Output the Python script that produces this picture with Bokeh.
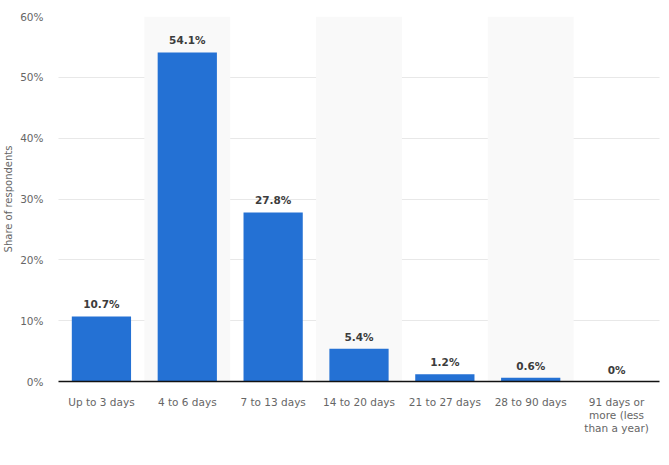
from bokeh.plotting import figure
from bokeh.models import FactorRange, Range1d, SingleIntervalTicker, ColumnDataSource
from bokeh.embed import file_html
from bokeh.resources import INLINE
from bokeh.core.properties import value

categories = ["Up to 3 days", "4 to 6 days", "7 to 13 days", "14 to 20 days",
              "21 to 27 days", "28 to 90 days", "91 days or\nmore (less\nthan a year)"]
shares = [10.7, 54.1, 27.8, 5.4, 1.2, 0.6, 0.0]
labels = ["10.7%", "54.1%", "27.8%", "5.4%", "1.2%", "0.6%", "0%"]
band_categories = [categories[1], categories[3], categories[5]]

p = figure(width=661, height=449, x_range=FactorRange(*categories, range_padding=0),
           y_range=Range1d(0, 60), output_backend="svg", toolbar_location=None,
           min_border_left=50, min_border_right=2, min_border_top=16, min_border_bottom=68)
p.outline_line_color = None
p.background_fill_color = "white"

# alternating background bands
p.vbar(x=band_categories, top=[60] * 3, bottom=0, width=1.0,
       fill_color="#f9f9f9", line_color=None)

src = ColumnDataSource(dict(x=categories, top=shares, lab=labels))
p.vbar(x="x", top="top", width=0.69, source=src, fill_color="#2471d4", line_color=None)
p.text(x="x", y="top", text="lab", source=src, text_align="center", text_baseline="bottom",
       y_offset=-6, text_font=value("DejaVu Sans"), text_font_size="10.5px",
       text_font_style="bold", text_color="#3c3c3c")

p.yaxis.ticker = SingleIntervalTicker(interval=10)
p.yaxis.major_label_overrides = {v: f"{v}%" for v in range(0, 70, 10)}
p.yaxis.axis_line_color = None
p.yaxis.major_tick_line_color = None
p.yaxis.minor_tick_line_color = None
p.yaxis.major_label_text_color = "#666666"
p.yaxis.major_label_text_font = "DejaVu Sans"
p.yaxis.major_label_text_font_size = "10.5px"
p.yaxis.major_label_standoff = 9
p.yaxis.axis_label = "Share of respondents"
p.yaxis.axis_label_text_font = "DejaVu Sans"
p.yaxis.axis_label_text_font_size = "10px"
p.yaxis.axis_label_text_font_style = "normal"
p.yaxis.axis_label_text_color = "#666666"
p.yaxis.axis_label_standoff = 3

p.xaxis.axis_line_color = "#111111"
p.xaxis.axis_line_width = 1.5
p.xaxis.major_tick_line_color = None
p.xaxis.minor_tick_line_color = None
p.xaxis.major_label_text_color = "#666666"
p.xaxis.major_label_text_font = "DejaVu Sans"
p.xaxis.major_label_text_font_size = "10.5px"
p.xaxis.major_label_standoff = 8
p.xaxis.major_label_text_line_height = 1.1

p.xgrid.grid_line_color = None
p.ygrid.grid_line_color = "#d0d0d0"
p.ygrid.grid_line_dash = "1 1"
p.ygrid.grid_line_width = 1

open("out.html", "w").write(file_html(p, INLINE))
